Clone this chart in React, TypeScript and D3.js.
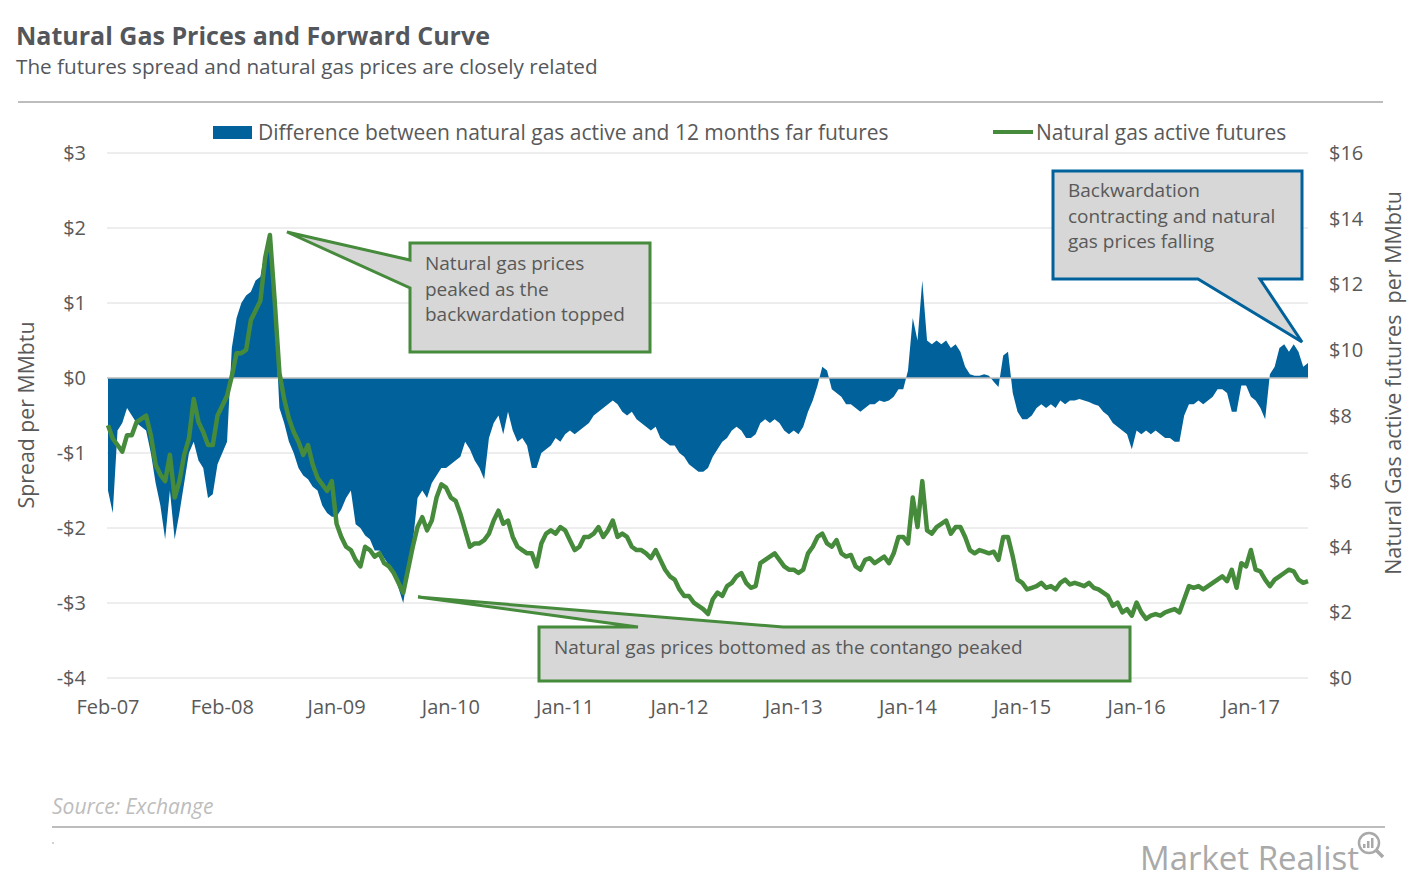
import React from "react";
import * as d3 from "d3";

const tickLabels = ["Feb-07","Feb-08","Jan-09","Jan-10","Jan-11","Jan-12","Jan-13","Jan-14","Jan-15","Jan-16","Jan-17"];
const spreadTicks = [3,2,1,0,-1,-2,-3,-4];
const priceTicks = [16,14,12,10,8,6,4,2,0];

// semi-monthly observations, Feb-2007 .. mid-2017
const spread = [
-1.5,-1.8,-0.7,-0.6,-0.4,-0.5,-0.6,-0.65,-0.7,-1.0,
-1.4,-1.7,-2.15,-1.5,-2.15,-1.8,-1.4,-1.0,-0.85,-1.1,
-1.2,-1.6,-1.55,-1.15,-1.0,-0.85,0.4,0.8,1.0,1.1,
1.15,1.3,1.35,1.7,1.85,0.9,-0.4,-0.6,-0.85,-1.0,
-1.2,-1.3,-1.35,-1.45,-1.5,-1.7,-1.8,-1.85,-1.85,-1.75,
-1.6,-1.5,-1.95,-2.0,-2.1,-2.15,-2.3,-2.3,-2.4,-2.5,
-2.6,-2.8,-3.0,-2.6,-2.2,-1.6,-1.5,-1.6,-1.4,-1.3,
-1.2,-1.2,-1.15,-1.1,-1.05,-0.85,-0.95,-1.1,-1.2,-1.35,
-0.8,-0.6,-0.5,-0.75,-0.45,-0.7,-0.85,-0.8,-0.9,-1.2,
-1.2,-1.0,-0.95,-0.9,-0.8,-0.85,-0.75,-0.7,-0.75,-0.7,
-0.65,-0.6,-0.5,-0.45,-0.4,-0.35,-0.3,-0.35,-0.45,-0.5,
-0.45,-0.55,-0.6,-0.65,-0.7,-0.65,-0.8,-0.85,-0.9,-0.9,
-1.0,-1.05,-1.15,-1.2,-1.25,-1.25,-1.2,-1.05,-0.95,-0.85,
-0.8,-0.7,-0.65,-0.7,-0.8,-0.8,-0.75,-0.6,-0.55,-0.6,
-0.55,-0.6,-0.7,-0.75,-0.7,-0.75,-0.65,-0.45,-0.3,-0.1,
0.15,0.1,-0.15,-0.2,-0.25,-0.35,-0.35,-0.4,-0.45,-0.4,
-0.35,-0.35,-0.3,-0.32,-0.3,-0.25,-0.15,-0.15,0.1,0.8,
0.5,1.3,0.5,0.45,0.5,0.45,0.5,0.4,0.45,0.35,
0.15,0.05,0.03,0.03,0.05,0.03,-0.05,-0.12,0.3,0.35,
-0.2,-0.45,-0.55,-0.55,-0.5,-0.4,-0.35,-0.4,-0.35,-0.4,
-0.3,-0.35,-0.3,-0.3,-0.28,-0.3,-0.32,-0.35,-0.37,-0.45,
-0.5,-0.6,-0.65,-0.7,-0.75,-0.95,-0.7,-0.75,-0.7,-0.75,
-0.7,-0.75,-0.8,-0.8,-0.85,-0.85,-0.5,-0.35,-0.35,-0.3,
-0.35,-0.3,-0.25,-0.15,-0.15,-0.2,-0.45,-0.45,-0.1,-0.1,
-0.25,-0.3,-0.4,-0.55,0.05,0.15,0.4,0.45,0.35,0.45,
0.35,0.15,0.2
];

const price = [
7.7,7.3,7.1,6.9,7.4,7.4,7.8,7.9,8.0,7.4,
6.5,6.2,6.0,6.8,5.5,6.0,6.8,7.3,8.5,7.8,
7.5,7.1,7.1,8.0,8.3,8.6,9.2,9.9,9.9,10.0,
10.9,11.2,11.5,12.8,13.5,11.5,9.3,8.5,7.9,7.5,
7.2,6.8,7.1,6.5,6.1,5.9,5.7,6.0,4.7,4.3,
4.0,3.9,3.6,3.4,4.0,3.9,3.7,3.8,3.5,3.4,
3.2,2.9,2.6,3.3,4.0,4.6,4.9,4.5,4.8,5.5,
5.9,5.8,5.5,5.4,5.0,4.5,4.0,4.1,4.1,4.2,
4.4,4.8,5.1,4.7,4.8,4.3,4.0,3.9,3.8,3.8,
3.4,4.1,4.4,4.5,4.4,4.6,4.5,4.2,3.9,4.0,
4.3,4.3,4.4,4.6,4.3,4.5,4.8,4.3,4.4,4.3,
4.0,3.9,3.9,3.8,3.65,3.9,3.6,3.3,3.1,3.0,
2.7,2.5,2.5,2.3,2.2,2.1,1.95,2.4,2.6,2.5,
2.8,2.9,3.1,3.2,2.9,2.75,2.8,3.5,3.6,3.7,
3.8,3.6,3.4,3.3,3.3,3.2,3.3,3.8,4.0,4.3,
4.4,4.1,4.0,4.2,3.8,3.7,3.75,3.4,3.3,3.6,
3.65,3.5,3.6,3.7,3.5,3.8,4.3,4.3,4.1,5.5,
4.6,6.0,4.5,4.4,4.6,4.7,4.8,4.4,4.6,4.6,
4.3,3.9,3.8,3.9,3.85,3.8,3.85,3.6,4.3,4.3,
3.7,3.0,2.9,2.7,2.75,2.8,2.9,2.75,2.8,2.7,
2.9,3.0,2.85,2.9,2.85,2.8,2.9,2.75,2.7,2.6,
2.5,2.2,2.3,2.0,2.1,1.9,2.3,2.0,1.8,1.9,
1.95,1.9,2.0,2.05,2.1,2.0,2.4,2.8,2.75,2.8,
2.7,2.8,2.9,3.0,3.1,2.95,3.3,2.75,3.5,3.4,
3.9,3.3,3.25,3.0,2.8,3.0,3.1,3.2,3.3,3.25,
3.0,2.9,2.95
];

const BLUE = "#01629b";
const GREEN = "#468a3c";
const TXT = "#595959";
const FONT = "'Open Sans', sans-serif";

export default function App() {
  const W = 1413, H = 885;
  const x = d3.scaleLinear().domain([0, 10.5]).range([108, 1308]);
  const yS = d3.scaleLinear().domain([-4, 3]).range([678, 153]);
  const yP = d3.scaleLinear().domain([0, 16]).range([678, 153]);
  const tOf = (i: number) => i / 24;

  const area = d3.area<number>()
    .x((_, i) => x(tOf(i)))
    .y0(yS(0))
    .y1((d) => yS(d));
  const line = d3.line<number>()
    .x((_, i) => x(tOf(i)))
    .y((d) => yP(d));

  const calloutFill = "#d6d7d6";

  return (
    <svg width={W} height={H} style={{ display: "block", position: "absolute", left: 0, top: 0, background: "#fff" }} fontFamily={FONT}>
      <rect width={W} height={H} fill="#fff" />
      {/* title */}
      <text x={16} y={45} fontSize={25} fontWeight={700} fill="#53575c">Natural Gas Prices and Forward Curve</text>
      <text x={16} y={74} fontSize={20.7} fill="#53575c">The futures spread and natural gas prices are closely related</text>
      <line x1={18} x2={1383} y1={102} y2={102} stroke="#bdbdbd" strokeWidth={2} />

      {/* legend */}
      <rect x={213} y={126} width={39} height={13} fill={BLUE} />
      <text x={258} y={140} fontSize={21} fill={TXT}>Difference between natural gas active and 12 months far futures</text>
      <line x1={993} x2={1033} y1={132} y2={132} stroke={GREEN} strokeWidth={4} />
      <text x={1036} y={140} fontSize={21} fill={TXT}>Natural gas active futures</text>

      {/* grid */}
      {spreadTicks.map((v) => (
        <line key={"g" + v} x1={107} x2={1308} y1={yS(v)} y2={yS(v)} stroke="#dcdcdc" strokeWidth={1} />
      ))}

      {/* axes */}
      {spreadTicks.map((v) => (
        <text key={"l" + v} x={86} y={yS(v) + 7} fontSize={20} fill={TXT} textAnchor="end">
          {(v < 0 ? "-$" : "$") + Math.abs(v)}
        </text>
      ))}
      {priceTicks.map((v) => (
        <text key={"r" + v} x={1329} y={yP(v) + 7} fontSize={20} fill={TXT} textAnchor="start">
          {"$" + v}
        </text>
      ))}
      {tickLabels.map((s, i) => (
        <text key={s} x={x(i)} y={714} fontSize={20} fill={TXT} textAnchor="middle">{s}</text>
      ))}
      <text transform="translate(34,415) rotate(-90)" fontSize={21.3} fill={TXT} textAnchor="middle">Spread per MMbtu</text>
      <text transform="translate(1401,383) rotate(-90)" fontSize={21.5} fill={TXT} textAnchor="middle" style={{ whiteSpace: "pre" }}>{"Natural Gas active futures  per MMbtu"}</text>

      {/* spread area */}
      <path d={area(spread) || ""} fill={BLUE} />
      <line x1={107} x2={1308} y1={yS(0)} y2={yS(0)} stroke="#c0c0c0" strokeWidth={1.5} />
      {/* price line */}
      <path d={line(price) || ""} fill="none" stroke={GREEN} strokeWidth={4.5} strokeLinejoin="round" />

      {/* callout 1 */}
      <path d="M410,243 H650 V352 H410 V288 L287,232 L410,260 Z" fill={calloutFill} stroke={GREEN} strokeWidth={3} />
      <g fontSize={19} fill={TXT}>
        <text x={425} y={270}>Natural gas prices</text>
        <text x={425} y={296}>peaked as the</text>
        <text x={425} y={321}>backwardation topped</text>
      </g>

      {/* callout 2 */}
      <path d="M1053,171 H1302 V279 H1260 L1302,342 L1198,279 H1053 Z" fill={calloutFill} stroke={BLUE} strokeWidth={3} />
      <g fontSize={19} fill={TXT}>
        <text x={1068} y={197}>Backwardation</text>
        <text x={1068} y={223}>contracting and natural</text>
        <text x={1068} y={248}>gas prices falling</text>
      </g>

      {/* callout 3 */}
      <path d="M539,627 H638 L418,597 L783,627 H1130 V681 H539 Z" fill={calloutFill} stroke={GREEN} strokeWidth={3} />
      <text x={554} y={654} fontSize={19} fill={TXT}>Natural gas prices bottomed as the contango peaked</text>

      {/* footer */}
      <text x={52} y={814} fontSize={21} fill="#bdbdbd" fontStyle="italic">Source: Exchange</text>
      <line x1={52} x2={1385} y1={827} y2={827} stroke="#bdbdbd" strokeWidth={2} />
      <circle cx={53} cy={843} r={0.8} fill="#999" />
      <text x={1140} y={870} fontSize={33} fill="#a9a9a9">Market Realist</text>
      <g stroke="#a9a9a9" fill="none" strokeWidth={2.5}>
        <circle cx={1369} cy={843} r={10} />
        <line x1={1376} y1={850} x2={1383} y2={857} strokeWidth={3.5} />
      </g>
      <g fill="#a9a9a9">
        <rect x={1363} y={844} width={2.5} height={4} />
        <rect x={1367} y={841} width={2.5} height={7} />
        <rect x={1371} y={838} width={2.5} height={10} />
      </g>
    </svg>
  );
}
